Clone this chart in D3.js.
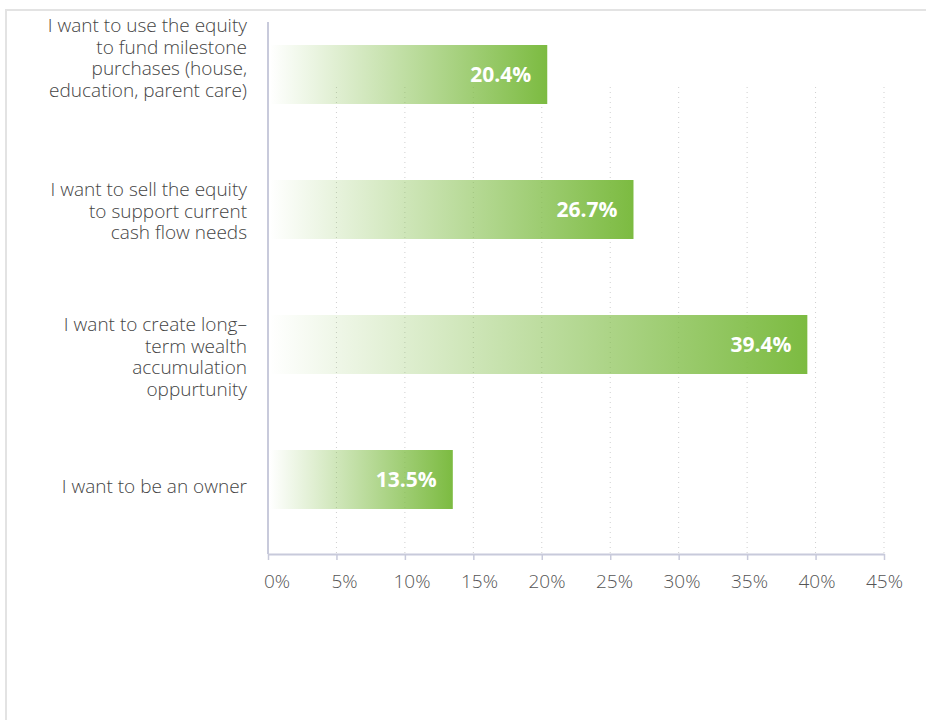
<!DOCTYPE html>
<html>
<head>
<meta charset="utf-8">
<script src="https://cdn.jsdelivr.net/npm/d3@7"></script>
<style>
  html, body { margin: 0; padding: 0; background: #fff; }
  svg { display: block; }
</style>
</head>
<body>
<svg id="chart" width="926" height="720"></svg>
<script>
// Survey responses: reasons for holding equity
const categories = [
  ["I want to use the equity", "to fund milestone", "purchases (house,", "education, parent care)"],
  ["I want to sell the equity", "to support current", "cash flow needs"],
  ["I want to create long\u2013", "term wealth", "accumulation", "oppurtunity"],
  ["I want to be an owner"]
];
const shares = [20.4, 26.7, 39.4, 13.5];
const tickValues = [0, 5, 10, 15, 20, 25, 30, 35, 40, 45];
const tickLabels = ["0%", "5%", "10%", "15%", "20%", "25%", "30%", "35%", "40%", "45%"];

// Layout (not data): small vertical nudges for the wrapped category labels
const labelNudge = [-16, 2, 13, 7];

const svg = d3.select("#chart");
const font = "'Open Sans', 'Noto Sans', sans-serif";

// Outer frame lines
svg.append("line").attr("x1", 6).attr("x2", 926).attr("y1", 10).attr("y2", 10)
  .attr("stroke", "#e3e3e3").attr("stroke-width", 2);
svg.append("line").attr("x1", 6).attr("x2", 6).attr("y1", 9).attr("y2", 720)
  .attr("stroke", "#e3e3e3").attr("stroke-width", 2);

const x = d3.scaleLinear().domain([0, 45]).range([268, 884]);
// tick labels sit on a slightly narrower spread than the ticks themselves
const xLabel = d3.scaleLinear().domain([0, 45]).range([276.5, 884]);
const y = d3.scaleBand().domain(d3.range(categories.length))
  .range([7, 547]).paddingInner(0.563).paddingOuter(0.2815);

const axisY = 554;
const gridTop = 87;

// Dotted vertical gridlines
svg.append("g").selectAll("line")
  .data(tickValues.filter(v => v > 0))
  .join("line")
  .attr("x1", d => x(d)).attr("x2", d => x(d))
  .attr("y1", gridTop).attr("y2", axisY)
  .attr("stroke", "#cfcfcf").attr("stroke-width", 1)
  .attr("stroke-dasharray", "1,4");

// Gradient fill for bars: pale on the left, green on the right
const defs = svg.append("defs");
const grad = defs.append("linearGradient").attr("id", "barGrad")
  .attr("x1", "0%").attr("x2", "100%").attr("y1", "0%").attr("y2", "0%");
grad.append("stop").attr("offset", "0%").attr("stop-color", "#7cbb41").attr("stop-opacity", 0);
grad.append("stop").attr("offset", "100%").attr("stop-color", "#7cbb41").attr("stop-opacity", 1);

// Bars
svg.append("g").selectAll("rect")
  .data(shares)
  .join("rect")
  .attr("x", x(0) + 2)
  .attr("y", (d, i) => y(i))
  .attr("width", d => x(d) - x(0) - 2)
  .attr("height", y.bandwidth())
  .attr("fill", "url(#barGrad)");

// Value labels inside bars
svg.append("g").selectAll("text")
  .data(shares)
  .join("text")
  .attr("x", d => x(d) - 16)
  .attr("y", (d, i) => y(i) + y.bandwidth() / 2 + 7)
  .attr("text-anchor", "end")
  .attr("fill", "#fff")
  .attr("font-family", font)
  .attr("font-weight", 700)
  .attr("font-size", 21)
  .text(d => d.toFixed(1) + "%");

// Vertical axis line
svg.append("line").attr("x1", x(0)).attr("x2", x(0)).attr("y1", 22).attr("y2", axisY)
  .attr("stroke", "#c8cadb").attr("stroke-width", 2);

// Bottom axis
const xAxis = d3.axisBottom(x).tickValues(tickValues)
  .tickFormat((d, i) => tickLabels[i]).tickSize(6).tickSizeOuter(0);
const gx = svg.append("g").attr("transform", `translate(0,${axisY})`).call(xAxis);
gx.select(".domain").attr("stroke", "#c8cadb").attr("stroke-width", 2);
gx.selectAll(".tick line").attr("stroke", "#c8cadb").attr("stroke-width", 1.5);
gx.selectAll(".tick text")
  .attr("x", d => xLabel(d) - x(d)).attr("y", 34).attr("dy", 0)
  .attr("fill", "#555")
  .attr("font-family", font)
  .attr("font-weight", 300)
  .attr("font-size", 19);

// Category labels, right aligned and vertically centred on each bar
const lineH = 21.7;
const labels = svg.append("g").selectAll("text")
  .data(categories)
  .join("text")
  .attr("text-anchor", "end")
  .attr("fill", "#444")
  .attr("font-family", font)
  .attr("font-weight", 300)
  .attr("font-size", 19);
labels.each(function(lines, i) {
  const cy = y(i) + y.bandwidth() / 2 + labelNudge[i];
  const firstBase = cy - (lines.length - 1) * lineH / 2 + 6;
  d3.select(this).selectAll("tspan")
    .data(lines)
    .join("tspan")
    .attr("x", 247)
    .attr("y", (d, j) => firstBase + j * lineH)
    .text(d => d);
});
</script>
</body>
</html>
